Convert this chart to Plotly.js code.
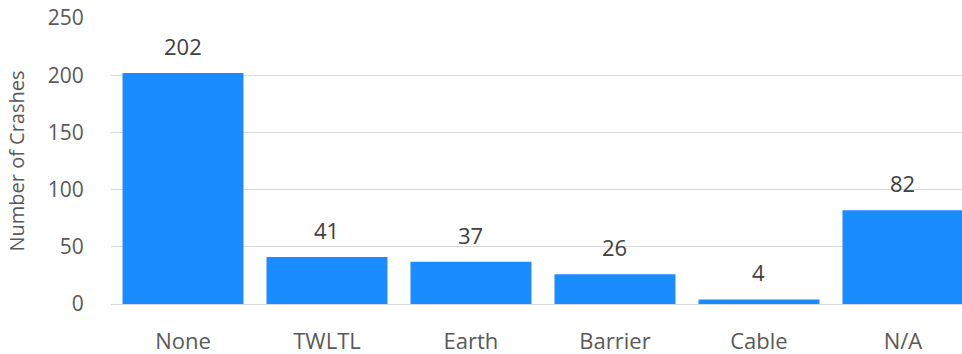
<!DOCTYPE html>
<html><head><meta charset="utf-8">
<script src="https://cdn.plot.ly/plotly-3.0.1.min.js"></script>
<style>html,body{margin:0;padding:0;overflow:hidden;background:#fff}</style>
</head><body><div id="chart" style="width:962px;height:354px"></div>
<script>
const categories = ["None", "TWLTL", "Earth", "Barrier", "Cable", "N/A"];
const crashes = [202, 41, 37, 26, 4, 82];
const yTicks = [0, 50, 100, 150, 200, 250];

const font = {family: "Open Sans, Liberation Sans, sans-serif", color: "#595959"};

const trace = {
  type: "bar", x: categories, y: crashes,
  marker: {color: "#1a8cff"}, hoverinfo: "none"
};
const annotations = categories.map((c, i) => ({
  x: c, y: crashes[i], text: String(crashes[i]), showarrow: false,
  xanchor: "center", yanchor: "bottom", yshift: 10,
  font: Object.assign({}, font, {size: 22, color: "#404040"})
}));
const layout = {
  width: 962, height: 354,
  margin: {l: 111, r: 0, t: 18, b: 50},
  paper_bgcolor: "#fff", plot_bgcolor: "#fff",
  bargap: 0.16, showlegend: false,
  xaxis: {
    type: "category", range: [-0.5, 5.41], fixedrange: true,
    showgrid: false, zeroline: false, showline: false,
    ticks: "outside", ticklen: 18, tickcolor: "rgba(0,0,0,0)",
    tickfont: Object.assign({}, font, {size: 22})
  },
  yaxis: {
    range: [0, 250], tickvals: yTicks, ticktext: yTicks.map(String),
    showgrid: true, gridcolor: "#d9d9d9", gridwidth: 1,
    zeroline: true, zerolinecolor: "#d9d9d9", zerolinewidth: 1, showline: false,
    ticks: "outside", ticklen: 22, tickcolor: "rgba(0,0,0,0)",
    tickfont: Object.assign({}, font, {size: 21}),
    title: {text: "Number of Crashes", standoff: 17, font: Object.assign({}, font, {size: 20})}
  },
  annotations: annotations
};
Plotly.newPlot("chart", [trace], layout, {displayModeBar: false, staticPlot: true});
</script></body></html>
